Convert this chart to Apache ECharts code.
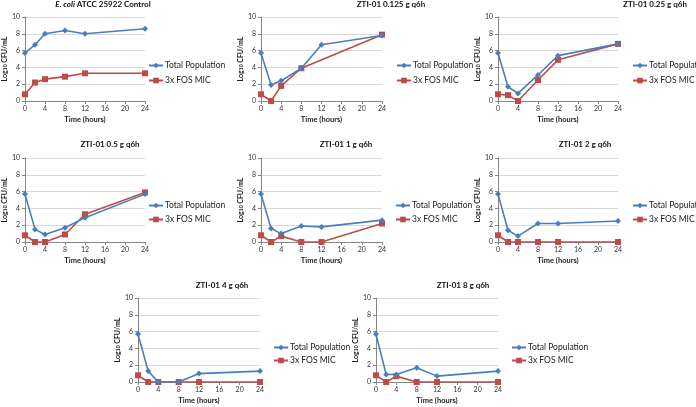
<!DOCTYPE html>
<html>
<head>
<meta charset="utf-8">
<script src="https://cdn.jsdelivr.net/npm/echarts@6/dist/echarts.min.js"></script>
<style>html,body{margin:0;padding:0;background:#fff;}#c{width:696px;height:407px;}</style>
</head>
<body>
<div id="c"></div>
<script>
var timeHours = [0, 2, 4, 8, 12, 24];
var xTicks = [0, 4, 8, 12, 16, 20, 24];
var yTicks = [0, 2, 4, 6, 8, 10];
var panelTitles = ['{i|E. coli} ATCC 25922 Control', 'ZTI-01 0.125 g q6h', 'ZTI-01 0.25 g q6h', 'ZTI-01 0.5 g q6h', 'ZTI-01 1 g q6h', 'ZTI-01 2 g q6h', 'ZTI-01 4 g q6h', 'ZTI-01 8 g q6h'];
var seriesNames = ['Total Population', '3x FOS MIC'];

var totalControl = [5.7, 6.7, 8.0, 8.4, 8.0, 8.6];
var fosControl   = [0.8, 2.2, 2.6, 2.9, 3.3, 3.3];
var total0125 = [5.7, 1.9, 2.4, 3.9, 6.7, 7.8];
var fos0125   = [0.8, 0.0, 1.8, 3.9, null, 7.9];
var total025 = [5.7, 1.7, 0.9, 3.1, 5.4, 6.8];
var fos025   = [0.8, 0.7, 0.0, 2.5, 4.9, 6.8];
var total05 = [5.7, 1.5, 0.9, 1.7, 2.9, 5.7];
var fos05   = [0.8, 0.0, 0.0, 0.9, 3.3, 5.9];
var total1 = [5.7, 1.6, 1.0, 1.9, 1.8, 2.6];
var fos1   = [0.8, 0.0, 0.7, 0.0, 0.0, 2.2];
var total2 = [5.7, 1.4, 0.7, 2.2, 2.2, 2.5];
var fos2   = [0.8, 0.0, 0.0, 0.0, 0.0, 0.0];
var total4 = [5.7, 1.3, 0.0, 0.0, 1.0, 1.3];
var fos4   = [0.8, 0.0, 0.0, 0.0, 0.0, 0.0];
var total8 = [5.7, 0.9, 0.9, 1.7, 0.7, 1.3];
var fos8   = [0.8, 0.0, 0.7, 0.0, 0.0, 0.0];

var totals = [totalControl, total0125, total025, total05, total1, total2, total4, total8];
var foss = [fosControl, fos0125, fos025, fos05, fos1, fos2, fos4, fos8];

// layout
var panels = [
  {l: 24,  w: 121, t: 17,  h: 84, tx: 103, ty: 0,   lx: 148, ly: 61,  gap: 6},
  {l: 261, w: 121, t: 17,  h: 84, tx: 391, ty: 0,   lx: 396, ly: 61,  gap: 6},
  {l: 498, w: 120, t: 17,  h: 84, tx: 655, ty: 0,   lx: 632, ly: 61,  gap: 6},
  {l: 24,  w: 121, t: 158, h: 84, tx: 110, ty: 140, lx: 148, ly: 201, gap: 5},
  {l: 261, w: 121, t: 158, h: 84, tx: 346, ty: 140, lx: 395, ly: 201, gap: 5},
  {l: 498, w: 120, t: 158, h: 84, tx: 585, ty: 140, lx: 632, ly: 201, gap: 5},
  {l: 138, w: 122, t: 298, h: 84, tx: 222, ty: 281, lx: 273, ly: 343, gap: 4},
  {l: 376, w: 122, t: 298, h: 84, tx: 463, ty: 281, lx: 511, ly: 343, gap: 4}
];

var FONT = 'Lato';
var BLUE = '#4A7EBB';
var RED = '#BE4B48';

var option = {
  backgroundColor: '#fff',
  animation: false,
  textStyle: {fontFamily: FONT},
  title: [], legend: [], grid: [], xAxis: [], yAxis: [], series: []
};

panels.forEach(function (p, i) {
  option.title.push({
    text: panelTitles[i], left: p.tx, top: p.ty, textAlign: 'center', padding: 0,
    textStyle: {fontFamily: FONT, fontSize: 8, fontWeight: 'bold', color: '#111',
      rich: {i: {fontFamily: FONT, fontSize: 8, fontWeight: 'bold', fontStyle: 'italic', color: '#111'}}}
  });
  option.grid.push({left: p.l, top: p.t, width: p.w, height: p.h, containLabel: false});
  option.xAxis.push({
    type: 'value', gridIndex: i, min: 0, max: 24, interval: 4,
    name: 'Time (hours)', nameLocation: 'middle', nameGap: 15,
    nameTextStyle: {fontFamily: FONT, fontSize: 7.5, fontWeight: 'bold', color: '#222'},
    axisLine: {show: true, onZero: false, lineStyle: {color: '#868686', width: 1}},
    axisTick: {show: true, length: 3, lineStyle: {color: '#868686'}},
    axisLabel: {fontFamily: FONT, fontSize: 7, color: '#333', margin: 4},
    splitLine: {show: false}
  });
  option.yAxis.push({
    type: 'value', gridIndex: i, min: 0, max: 10, interval: 2,
    name: '{a|Log}{s|10}{a| CFU/mL}', nameLocation: 'middle', nameGap: 14,
    nameTextStyle: {fontFamily: FONT, fontSize: 7, fontWeight: 'bold', color: '#222',
      rich: {
        a: {fontFamily: FONT, fontSize: 7, fontWeight: 'bold', color: '#222'},
        s: {fontFamily: FONT, fontSize: 5, fontWeight: 'bold', color: '#222', verticalAlign: 'bottom', lineHeight: 6}
      }},
    axisLine: {show: true, lineStyle: {color: '#868686', width: 1}},
    axisTick: {show: true, length: 3, lineStyle: {color: '#868686'}},
    axisLabel: {fontFamily: FONT, fontSize: 7, color: '#333', margin: 5},
    splitLine: {show: true, lineStyle: {color: '#D9D9D9', width: 1}}
  });
  option.legend.push({
    orient: 'vertical', left: p.lx, top: p.ly, itemWidth: 14, itemHeight: 7, itemGap: p.gap,
    padding: 0,
    data: seriesNames,
    textStyle: {fontFamily: FONT, fontSize: 8.5, color: '#222', padding: [0, 0, 0, -3]}
  });
  option.series.push({
    name: seriesNames[0], type: 'line', xAxisIndex: i, yAxisIndex: i,
    data: timeHours.map(function (t, k) { return [t, totals[i][k]]; }),
    symbol: 'diamond', symbolSize: 6, connectNulls: true, z: 3,
    lineStyle: {color: BLUE, width: 1.6}, itemStyle: {color: BLUE}
  });
  option.series.push({
    name: seriesNames[1], type: 'line', xAxisIndex: i, yAxisIndex: i,
    data: timeHours.map(function (t, k) { return [t, foss[i][k]]; }),
    symbol: 'rect', symbolSize: 6, connectNulls: true, z: 2,
    lineStyle: {color: RED, width: 1.6}, itemStyle: {color: RED}
  });
});

var chart = echarts.init(document.getElementById('c'), null, {renderer: 'canvas'});
chart.setOption(option);
</script>
</body>
</html>
